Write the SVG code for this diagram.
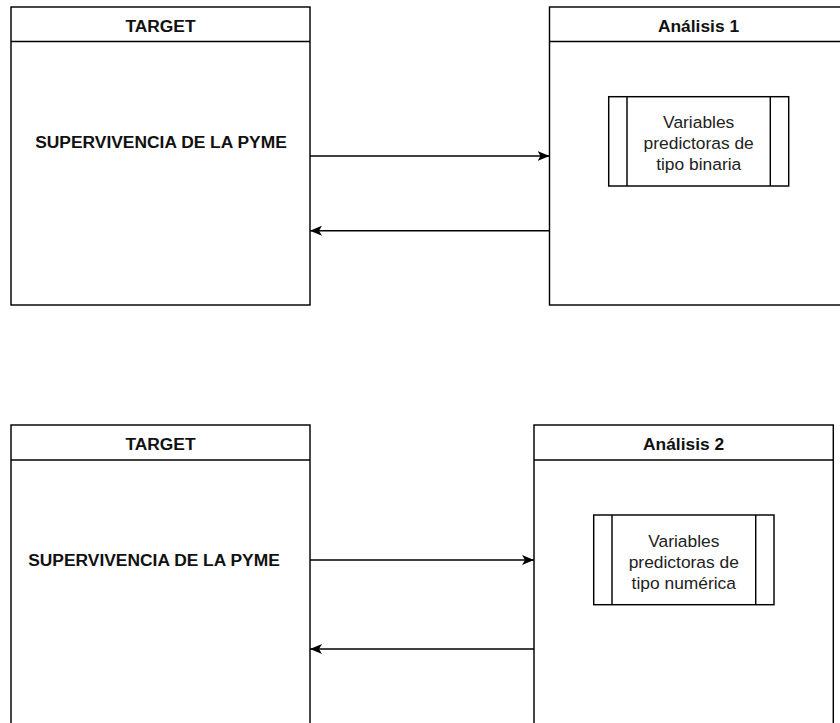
<svg xmlns="http://www.w3.org/2000/svg" width="840" height="723" viewBox="0 0 840 723">
<defs>
<style>
.box{fill:#fff;stroke:#000;stroke-width:1.45}
.ln{fill:none;stroke:#000;stroke-width:1.45}
.b{font-family:"Liberation Sans",Arial,sans-serif;font-size:17.4px;font-weight:bold;fill:#111;text-anchor:middle}
.r{font-family:"Liberation Sans",Arial,sans-serif;font-size:17.4px;fill:#222;text-anchor:middle}
</style>
<marker id="ah" viewBox="0 0 12 10" refX="12" refY="5" markerWidth="12" markerHeight="10" markerUnits="userSpaceOnUse" orient="auto">
<path d="M0,0 L12,5 L0,10 L3,5 Z" fill="#000"/>
</marker>
</defs>
<rect width="840" height="723" fill="#fff"/>
<g id="target1">
<rect class="box" x="11" y="7" width="299" height="298"/>
<line class="ln" x1="11" y1="41.5" x2="310" y2="41.5"/>
<text class="b" x="160.5" y="32">TARGET</text>
<text class="b" x="161" y="148">SUPERVIVENCIA DE LA PYME</text>
</g>
<g id="analisis1">
<rect class="box" x="549.5" y="7" width="298" height="298"/>
<line class="ln" x1="549.5" y1="41.5" x2="847.5" y2="41.5"/>
<text class="b" x="698.5" y="32">Análisis 1</text>
</g>
<g id="vars1">
<rect class="box" x="608.7" y="96.7" width="180" height="89.3"/>
<line class="ln" x1="627" y1="96.7" x2="627" y2="186"/>
<line class="ln" x1="770.3" y1="96.7" x2="770.3" y2="186"/>
<text class="r" x="698.7" y="127.7">Variables</text>
<text class="r" x="698.7" y="148.7">predictoras de</text>
<text class="r" x="698.7" y="169.5">tipo binaria</text>
</g>
<g id="target2">
<rect class="box" x="11" y="425" width="299" height="310"/>
<line class="ln" x1="11" y1="460" x2="310" y2="460"/>
<text class="b" x="160.5" y="449.5">TARGET</text>
<text class="b" x="154" y="566">SUPERVIVENCIA DE LA PYME</text>
</g>
<g id="analisis2">
<rect class="box" x="534" y="425" width="299.3" height="310"/>
<line class="ln" x1="534" y1="460" x2="833.3" y2="460"/>
<text class="b" x="683.6" y="449.5">Análisis 2</text>
</g>
<g id="vars2">
<rect class="box" x="593.7" y="515" width="180.3" height="89.7"/>
<line class="ln" x1="612" y1="515" x2="612" y2="604.7"/>
<line class="ln" x1="755.7" y1="515" x2="755.7" y2="604.7"/>
<text class="r" x="683.8" y="547">Variables</text>
<text class="r" x="683.8" y="568">predictoras de</text>
<text class="r" x="683.8" y="588.8">tipo numérica</text>
</g>
<g id="connectors">
<line class="ln" x1="310" y1="156" x2="549.5" y2="156" marker-end="url(#ah)"/>
<line class="ln" x1="549.5" y1="230.7" x2="310" y2="230.7" marker-end="url(#ah)"/>
<line class="ln" x1="310" y1="560" x2="534" y2="560" marker-end="url(#ah)"/>
<line class="ln" x1="534" y1="649" x2="310" y2="649" marker-end="url(#ah)"/>
</g>
</svg>
